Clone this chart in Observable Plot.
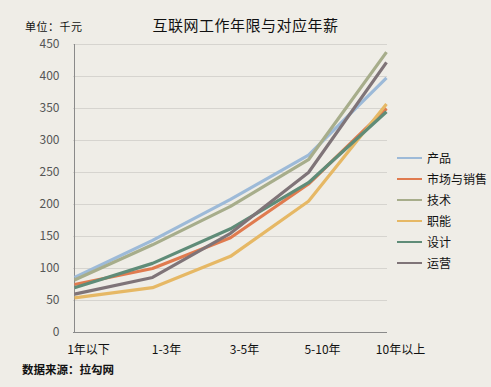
<!DOCTYPE html>
<html>
<head>
<meta charset="utf-8">
<script src="https://cdn.jsdelivr.net/npm/d3@7"></script>
<script src="https://cdn.jsdelivr.net/npm/@observablehq/plot@0.6"></script>
<style>
  html, body { margin: 0; padding: 0; background: #efede7; }
  #wrap { position: relative; width: 491px; height: 387px; overflow: hidden; background: #efede7;
          font-family: "Noto Sans CJK SC", "Liberation Sans", Arial, sans-serif; }
  #wrap svg { position: absolute; left: 0; top: 0; }
  .title { position: absolute; left: 0; width: 491px; top: 14px; text-align: center; font-size: 15px; color: #111; letter-spacing: 0.5px; }
  .unit { position: absolute; left: 25px; top: 18px; font-size: 11px; color: #111; letter-spacing: 0.5px; }
  .caption { position: absolute; left: 22px; top: 361px; font-size: 11.5px; font-weight: bold; color: #111; }
  .legend { position: absolute; left: 397px; top: 147px; font-size: 12px; color: #111; }
  .legend .row { display: flex; align-items: center; height: 21px; }
  .legend .sw { width: 25px; height: 2px; margin-right: 5px; }
</style>
</head>
<body>
<div id="wrap"></div>
<script>
const categories = ["1年以下", "1-3年", "3-5年", "5-10年", "10年以上"];
const seriesNames = ["产品", "市场与销售", "技术", "职能", "设计", "运营"];
const colors = ["#9dbad8", "#e07b4f", "#a7ad8b", "#e6b865", "#5f8c78", "#7f7478"];
const product = [86, 144, 208, 277, 398];
const marketing = [75, 100, 148, 232, 350];
const tech = [82, 137, 197, 270, 438];
const support = [54, 70, 119, 205, 357];
const design = [70, 108, 162, 234, 345];
const operations = [60, 86, 155, 250, 422];
const yTicks = [0, 50, 100, 150, 200, 250, 300, 350, 400, 450];

const seriesValues = [product, marketing, tech, support, design, operations];
const data = [];
seriesNames.forEach((s, i) => categories.forEach((c, j) => data.push({series: s, cat: c, value: seriesValues[i][j]})));

const chart = Plot.plot({
  width: 491,
  height: 387,
  marginLeft: 73,
  marginRight: 104,
  marginTop: 44,
  marginBottom: 55,
  style: {background: "transparent", fontFamily: "'Noto Sans CJK SC', 'Liberation Sans', sans-serif", fontSize: "12px"},
  x: {type: "point", domain: categories, padding: 0},
  y: {domain: [0, 450], ticks: yTicks},
  color: {domain: seriesNames, range: colors},
  marks: [
    Plot.gridY(yTicks.filter(d => d > 0), {stroke: "#d6d4cf", strokeOpacity: 1, strokeWidth: 1}),
    Plot.axisY({ticks: yTicks, tickSize: 0, tickPadding: 14, label: null, fill: "#555", fontSize: 12}),
    Plot.axisX({tickSize: 0, tickPadding: 13, dx: 14, label: null, fill: "#111", fontSize: 12}),
    Plot.ruleX([categories[0]], {stroke: "#8a8a8a", strokeWidth: 1}),
    Plot.ruleY([0], {stroke: "#8a8a8a", strokeWidth: 1}),
    Plot.line(data, {x: "cat", y: "value", z: "series", stroke: "series", strokeWidth: 3.2, strokeLinejoin: "miter", strokeLinecap: "butt"})
  ]
});

const wrap = document.getElementById("wrap");
wrap.appendChild(chart);

const title = document.createElement("div");
title.className = "title";
title.textContent = "互联网工作年限与对应年薪";
wrap.appendChild(title);

const unit = document.createElement("div");
unit.className = "unit";
unit.textContent = "单位：千元";
wrap.appendChild(unit);

const cap = document.createElement("div");
cap.className = "caption";
cap.textContent = "数据来源：拉勾网";
wrap.appendChild(cap);

const legend = document.createElement("div");
legend.className = "legend";
seriesNames.forEach((s, i) => {
  const row = document.createElement("div");
  row.className = "row";
  const sw = document.createElement("span");
  sw.className = "sw";
  sw.style.background = colors[i];
  const t = document.createElement("span");
  t.textContent = s;
  row.appendChild(sw);
  row.appendChild(t);
  legend.appendChild(row);
});
wrap.appendChild(legend);
</script>
</body>
</html>
